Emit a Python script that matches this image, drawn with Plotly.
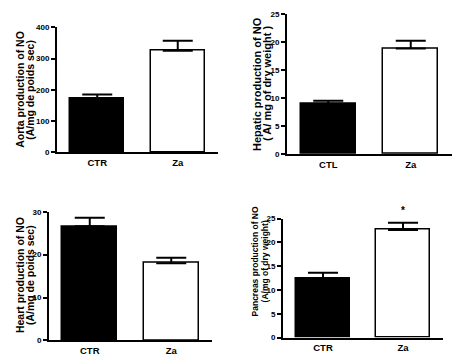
import plotly.graph_objects as go

W, H = 461, 363

# Data
aorta_cats = ["CTR", "Za"]
aorta_vals = [172, 325]
aorta_errs = [13, 32]

hepatic_cats = ["CTL", "Za"]
hepatic_vals = [9.0, 18.8]
hepatic_errs = [0.5, 1.4]

heart_cats = ["CTR", "Za"]
heart_vals = [26.6, 18.0]
heart_errs = [2.0, 1.3]

pancreas_cats = ["CTR", "Za"]
pancreas_vals = [12.3, 22.6]
pancreas_errs = [1.3, 1.5]

aorta_title = ["Aorta production of NO", "(A/mg de poids sec)"]
hepatic_title = ["Hepatic production of NO", "( A/ mg of dry weight )"]
heart_title = ["Heart production of NO", "(A/mg de poids sec)"]
pancreas_title = ["Pancreas production of NO", "(A/mg of dry weight)"]

panels = [
    dict(cats=aorta_cats, vals=aorta_vals, errs=aorta_errs, ymax=400, dtick=100,
         title=aorta_title, px=(57, 218), py=(24, 152), tx=(20, 30), ty=88, tsize=10.5),
    dict(cats=hepatic_cats, vals=hepatic_vals, errs=hepatic_errs, ymax=25, dtick=5,
         title=hepatic_title, px=(287, 452), py=(10, 154), tx=(257, 267), ty=82, tsize=11),
    dict(cats=heart_cats, vals=heart_vals, errs=heart_errs, ymax=30, dtick=10,
         title=heart_title, px=(49, 212), py=(213, 345), tx=(20, 30), ty=278, tsize=10.5),
    dict(cats=pancreas_cats, vals=pancreas_vals, errs=pancreas_errs, ymax=25, dtick=5,
         title=pancreas_title, px=(283, 443), py=(220, 342), tx=(255, 265), ty=264, tsize=8.5),
]
significance = [None, None, None, [None, "*"]]

FONT = "Arial, 'Liberation Sans', sans-serif"
fig = go.Figure()
annotations = []
for i, p in enumerate(panels):
    n = "" if i == 0 else str(i + 1)
    xa, ya = "x" + n, "y" + n
    fig.add_trace(go.Bar(
        x=[0, 1], y=p["vals"], xaxis=xa, yaxis=ya, width=0.67,
        marker=dict(color=["black", "white"], line=dict(color="black", width=1.5)),
        error_y=dict(type="data", symmetric=False, array=p["errs"], arrayminus=[0, 0],
                     color="black", thickness=2, width=15),
        showlegend=False, hoverinfo="skip",
    ))
    x0, x1 = p["px"]
    y0, y1 = p["py"]
    fig.update_layout(**{
        "xaxis" + n: dict(domain=[x0 / W, x1 / W], anchor=ya, range=[-0.5, 1.5],
                          tickvals=[0, 1], ticktext=p["cats"], showline=True,
                          linecolor="black", linewidth=2, ticks="", showgrid=False,
                          zeroline=False, fixedrange=True,
                          tickfont=dict(family=FONT, size=9.5, color="black", weight="bold")),
        "yaxis" + n: dict(domain=[1 - y1 / H, 1 - y0 / H], anchor=xa, range=[0, p["ymax"]],
                          dtick=p["dtick"], showline=True, linecolor="black", linewidth=2,
                          ticks="outside", ticklen=4, tickwidth=2, tickcolor="black",
                          showgrid=False, zeroline=False, fixedrange=True,
                          tickfont=dict(family=FONT, size=8, color="black", weight="bold")),
    })
    for line, tx in zip(p["title"], p["tx"]):
        annotations.append(dict(
            x=tx / W, y=1 - p["ty"] / H, xref="paper", yref="paper",
            text=line, textangle=-90, showarrow=False,
            font=dict(family=FONT, size=p["tsize"], color="black", weight="bold"),
            xanchor="center", yanchor="middle",
        ))
    if significance[i]:
        for k, s in enumerate(significance[i]):
            if s:
                annotations.append(dict(
                    x=k, y=p["vals"][k] + p["errs"][k], xref=xa, yref=ya, text=s,
                    showarrow=False, yanchor="bottom", yshift=5,
                    font=dict(family=FONT, size=10, color="black", weight="bold")))

fig.update_layout(
    width=W, height=H, margin=dict(l=0, r=0, t=0, b=0),
    paper_bgcolor="white", plot_bgcolor="white",
    annotations=annotations, bargap=0,
)
fig.write_html("out.html", config={"displayModeBar": False},
               post_script="document.body.style.margin='0';")
